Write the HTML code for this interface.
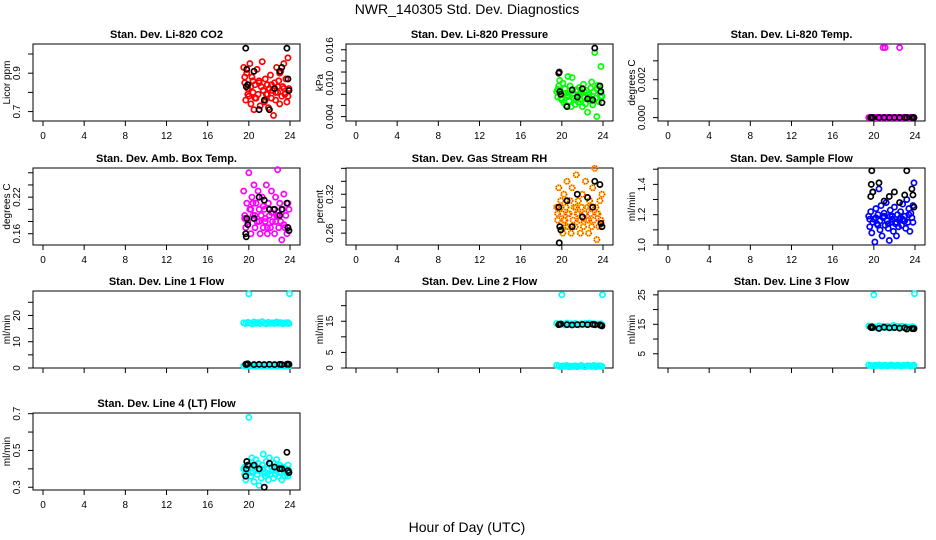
<!DOCTYPE html>
<html><head><meta charset="utf-8"><style>
html,body{margin:0;padding:0;background:#fff;}
svg{display:block;font-family:"Liberation Sans",Arial,sans-serif;}
</style></head><body>
<svg id="chart" width="936" height="540" viewBox="0 0 936 540">
<rect width="936" height="540" fill="#fff"/>
<text x="467" y="14" text-anchor="middle" font-size="14">NWR_140305  Std. Dev. Diagnostics</text>
<text x="467" y="532" text-anchor="middle" font-size="14">Hour of Day (UTC)</text>
</svg>
<script>
const xTicks=[0,4,8,12,16,20,24];
const hoursMain=[19.5,19.6,19.7,19.8,19.9,20.0,20.1,20.2,20.3,20.4,20.5,20.6,20.7,20.8,20.9,21.0,21.1,21.2,21.3,21.4,21.5,21.6,21.7,21.8,21.9,22.0,22.1,22.2,22.3,22.4,22.5,22.6,22.7,22.8,22.9,23.0,23.1,23.2,23.3,23.4,23.5,23.6,23.7,23.8,23.9,19.6,19.9,20.2,20.6,21.0,21.4,21.8,22.2,22.6,23.0,23.4,23.8,20.4,21.6,22.8];
const hoursBlack=[19.7,19.8,19.9,20.5,21.0,21.5,22.0,22.5,23.0,23.2,23.7,23.8,23.9,19.75];
const hoursLine=[19.5,19.7,19.9,20.1,20.3,20.5,20.7,20.9,21.1,21.3,21.5,21.7,21.9,22.1,22.3,22.5,22.7,22.9,23.1,23.3,23.5,23.7,23.9,23.8];
const hoursOut=[20.0,23.95];

const co2Main=[.93,.85,.76,.90,.82,.78,.95,.74,.88,.80,.71,.84,.77,.92,.79,.86,.73,.83,.96,.81,.75,.87,.79,.84,.72,.82,.89,.77,.81,.68,.85,.76,.93,.80,.86,.74,.91,.78,.83,.95,.79,.87,.75,.98,.82,.88,.79,.83,.77,.85,.81,.79,.84,.80,.90,.82,.78,.86,.76,.83];
const co2Black=[1.03,.92,.84,.91,.71,.76,.71,.82,.91,.93,1.03,.87,.81,.83];
const presMain=[.0085,.0075,.0095,.0105,.0080,.0070,.0100,.0065,.0090,.0060,.0078,.0112,.0068,.0095,.0058,.0110,.0082,.0072,.0062,.0088,.0076,.0066,.0092,.0071,.0084,.0058,.0098,.0074,.0063,.0087,.0048,.0079,.0069,.0091,.0102,.0061,.0085,.0155,.0073,.0040,.0096,.0067,.0083,.0130,.0077,.0089,.0073,.0081,.0076,.0086,.0070,.0079,.0084,.0075,.0068,.0090,.0074,.0082,.0078,.0072];
const presBlack=[.0118,.0085,.0080,.0058,.0088,.0075,.0090,.0072,.0070,.0163,.0095,.0085,.0065,.0120];
const tempMain=[0,0,0,0,0,0,0,0,0,0,0,0,0,0,0,0,0,0,0,0,0,0,0,0,0,0,0,0,0,0,0,0,0,0,0,0,0,0,0,0,0,0,0,0,0,0,0,0,0,0,0,0,0,0,0,0,0,0,0,0];
const tempOutHours=[20.9,21.1,22.5];
const tempOut=[.0037,.0037,.0037];
const tempBlack=[0,0,0,0,0,0,0,0,0,0,0,0,0,0];
const ambMain=[.23,.19,.17,.21,.18,.26,.20,.16,.22,.19,.24,.17,.21,.18,.23,.20,.16,.19,.22,.17,.20,.18,.24,.16,.21,.19,.17,.23,.18,.20,.16,.22,.19,.265,.17,.21,.18,.15,.20,.225,.17,.19,.16,.21,.20,.185,.175,.20,.19,.18,.205,.17,.195,.18,.19,.175,.17,.21,.185,.19];
const ambBlack=[.16,.185,.175,.185,.22,.215,.20,.20,.19,.20,.21,.17,.165,.155];
const rhMain=[.30,.28,.33,.27,.31,.29,.26,.32,.28,.30,.34,.27,.29,.31,.26,.33,.28,.30,.27,.35,.29,.31,.28,.26,.30,.32,.27,.29,.34,.28,.30,.26,.31,.29,.27,.33,.28,.36,.30,.25,.29,.27,.31,.28,.32,.29,.30,.28,.29,.27,.30,.28,.29,.28,.30,.29,.28,.27,.29,.30];
const rhBlack=[.30,.27,.265,.31,.27,.32,.285,.315,.30,.34,.335,.275,.27,.245];
const flowMain=[1.19,1.12,1.22,1.08,1.35,1.17,1.02,1.24,1.14,1.20,1.37,1.10,1.26,1.06,1.18,1.21,1.13,1.28,1.16,1.11,1.03,1.23,1.15,1.19,1.09,1.25,1.14,1.06,1.20,1.12,1.17,1.22,1.13,1.27,1.16,1.19,1.11,1.30,1.15,1.24,1.09,1.21,1.18,1.26,1.41,1.17,1.15,1.18,1.16,1.19,1.14,1.17,1.15,1.18,1.16,1.20,1.15,1.13,1.19,1.17];
const flowBlack=[1.32,1.49,1.35,1.41,1.29,1.32,1.35,1.28,1.33,1.49,1.37,1.33,1.25,1.40];
const l1High=[17.2,16.9,17.4,17.1,16.8,17.5,17.0,17.3,16.9,17.6,17.1,16.8,17.4,17.0,17.2,16.9,17.5,17.1,17.3,16.8,17.2,17.0,16.9,17.3];
const l1Low=[0.8,0.9,0.7,0.8,0.9,0.8,0.7,0.9,0.8,0.7,0.8,0.9,0.8,0.7,0.8,0.9,0.7,0.8,0.9,0.8,0.7,0.8,0.9,0.8];
const l1Out=[28.2,28.3];
const l1Black=[1.4,1.5,1.6,1.3,1.4,1.3,1.4,1.3,1.4,1.3,1.4,1.5,1.4,1.3];
const l2High=[14.3,13.9,14.2,14.1,13.8,14.4,14.0,14.2,13.9,14.3,14.1,13.8,14.2,14.0,14.3,13.9,14.4,14.1,14.2,13.8,14.1,14.0,13.9,14.2];
const l2Low=[0.9,0.6,0.4,0.7,0.5,0.8,0.4,0.6,0.5,0.7,0.4,0.6,0.8,0.5,0.4,0.7,0.6,0.5,0.8,0.4,0.6,0.7,0.5,0.6];
const l2Out=[23.5,23.5];
const l2Black=[13.9,14.0,14.1,13.9,13.8,13.9,14.0,13.9,14.0,13.9,13.8,13.6,13.5,14.0];
const l3High=[14.4,14.0,14.2,14.1,13.8,14.5,14.0,14.3,13.9,14.3,14.1,13.8,14.6,14.0,14.3,13.9,14.4,14.1,14.2,13.8,14.1,14.0,13.9,14.2];
const l3Low=[1.2,1.0,0.9,1.1,1.0,1.2,0.9,1.0,1.1,0.9,1.0,1.2,1.0,0.9,1.1,1.0,0.9,1.1,1.0,1.2,0.9,1.0,1.1,1.0];
const l3Out=[25.0,25.4];
const l3Black=[14.0,14.2,13.9,13.6,14.0,13.8,13.9,13.7,13.8,13.4,13.6,13.5,13.5,13.9];
const l4Main=[.40,.37,.34,.44,.39,.68,.42,.36,.46,.38,.33,.41,.45,.37,.43,.31,.39,.35,.42,.48,.38,.36,.44,.40,.34,.46,.37,.41,.39,.35,.43,.37,.45,.40,.36,.42,.38,.34,.41,.39,.36,.40,.37,.42,.39,.41,.40,.38,.42,.39,.40,.37,.41,.39,.38,.40,.36,.42,.38,.41];
const l4Black=[.36,.44,.42,.42,.40,.30,.43,.41,.40,.40,.49,.39,.38,.40];

const colLeft=[33,346,658], rowTop=[44,168,291,413], BW=267, BH=77;
const panels=[
 {name:'co2',title:'Stan. Dev. Li-820 CO2',ylab:'Licor ppm',c:0,r:0,ylim:[0.651,1.052],ticks:[0.7,0.8,0.9,1.0],labels:['0.7','','0.9',''],
  series:[[hoursMain,co2Main,'#ff0000'],[hoursBlack,co2Black,'#000']]},
 {name:'pressure',title:'Stan. Dev. Li-820 Pressure',ylab:'kPa',c:1,r:0,ylim:[0.00321,0.01703],ticks:[0.004,0.006,0.008,0.010,0.012,0.014,0.016],labels:['0.004','','','0.010','','','0.016'],
  series:[[hoursMain,presMain,'#00ff00'],[hoursBlack,presBlack,'#000']]},
 {name:'temp',title:'Stan. Dev. Li-820 Temp.',ylab:'degrees C',c:2,r:0,ylim:[-0.00018,0.00389],ticks:[0,0.001,0.002,0.003],labels:['0.000','','0.002',''],
  series:[[hoursMain,tempMain,'#ff00ff'],[tempOutHours,tempOut,'#ff00ff'],[hoursBlack,tempBlack,'#000']]},
 {name:'amb-box-temp',title:'Stan. Dev. Amb. Box Temp.',ylab:'degrees C',c:0,r:1,ylim:[0.1415,0.2678],ticks:[0.16,0.18,0.20,0.22,0.24,0.26],labels:['0.16','','','0.22','',''],
  series:[[hoursMain,ambMain,'#ff00ff'],[hoursBlack,ambBlack,'#000']]},
 {name:'gas-rh',title:'Stan. Dev. Gas Stream RH',ylab:'percent',c:1,r:1,ylim:[0.2417,0.3605],ticks:[0.26,0.28,0.30,0.32,0.34,0.36],labels:['0.26','','','0.32','',''],
  series:[[hoursMain,rhMain,'rh'],[hoursBlack,rhBlack,'#000']]},
 {name:'sample-flow',title:'Stan. Dev. Sample Flow',ylab:'ml/min',c:2,r:1,ylim:[1.0,1.508],ticks:[1.0,1.1,1.2,1.3,1.4,1.5],labels:['1.0','','1.2','','1.4',''],
  series:[[hoursMain,flowMain,'#0000ff'],[hoursBlack,flowBlack,'#000']]},
 {name:'line1-flow',title:'Stan. Dev. Line 1 Flow',ylab:'ml/min',c:0,r:2,ylim:[0,29.3],ticks:[0,5,10,15,20,25],labels:['0','','10','','20',''],nox:true,
  series:[[hoursLine,l1High,'#00ffff'],[hoursLine,l1Low,'#00ffff'],[hoursOut,l1Out,'#00ffff'],[hoursBlack,l1Black,'#000']]},
 {name:'line2-flow',title:'Stan. Dev. Line 2 Flow',ylab:'ml/min',c:1,r:2,ylim:[0,24.7],ticks:[0,5,10,15,20],labels:['0','5','','15',''],nox:true,
  series:[[hoursLine,l2High,'#00ffff'],[hoursLine,l2Low,'#00ffff'],[hoursOut,l2Out,'#00ffff'],[hoursBlack,l2Black,'#000']]},
 {name:'line3-flow',title:'Stan. Dev. Line 3 Flow',ylab:'ml/min',c:2,r:2,ylim:[0.17,26.3],ticks:[5,10,15,20,25],labels:['5','','15','','25'],nox:true,
  series:[[hoursLine,l3High,'#00ffff'],[hoursLine,l3Low,'#00ffff'],[hoursOut,l3Out,'#00ffff'],[hoursBlack,l3Black,'#000']]},
 {name:'line4-flow',title:'Stan. Dev. Line 4 (LT) Flow',ylab:'ml/min',c:0,r:3,ylim:[0.285,0.7036],ticks:[0.3,0.4,0.5,0.6,0.7],labels:['0.3','','0.5','','0.7'],
  series:[[hoursMain,l4Main,'#00ffff'],[hoursBlack,l4Black,'#000']]}
];
const svg=document.getElementById('chart');
const NS='http://www.w3.org/2000/svg';
function mk(tag,attrs,parent){const e=document.createElementNS(NS,tag);for(const k in attrs)e.setAttribute(k,attrs[k]);(parent||svg).appendChild(e);return e;}
panels.forEach(p=>{
  const L=colLeft[p.c],T=rowTop[p.r],B=T+BH,R=L+BW;
  const g=mk('g',{});
  
  
  const xs=h=>L+10+h*(BW-20)/24;
  const ys=v=>B-(v-p.ylim[0])/(p.ylim[1]-p.ylim[0])*BH;
  const t=mk('text',{x:(L+R)/2,y:T-6,'text-anchor':'middle','font-size':11,'font-weight':'bold'},g);
  t.textContent=p.title;
  
  
  const box=mk('rect',{x:L,y:T,width:BW,height:BH,fill:'none',stroke:'#000','stroke-width':1},g);
  
  
  const xa=mk('g',{},g);
  
  
  mk('line',{x1:xs(xTicks[0]),x2:xs(xTicks[xTicks.length-1]),y1:B,y2:B,stroke:'#000'},xa);
  xTicks.forEach(v=>{
    mk('line',{x1:xs(v),x2:xs(v),y1:B,y2:B+5,stroke:'#000'},xa);
    if(!p.nox){const tl=mk('text',{x:xs(v),y:B+18,'text-anchor':'middle','font-size':10},xa);tl.textContent=v;
      
      }
  });
  const ya=mk('g',{},g);
  
  
  mk('line',{x1:L,x2:L,y1:ys(p.ticks[0]),y2:ys(p.ticks[p.ticks.length-1]),stroke:'#000'},ya);
  p.ticks.forEach((v,i)=>{
    const y=ys(v);
    mk('line',{x1:L-5,x2:L,y1:y,y2:y,stroke:'#000'},ya);
    if(p.labels[i]){const tl=mk('text',{x:L-13,y:y,'text-anchor':'middle','font-size':10,transform:`rotate(-90 ${L-13} ${y})`},ya);tl.textContent=p.labels[i];
      
      }
  });
  const yt=mk('text',{x:L-23,y:(T+B)/2,'text-anchor':'middle','font-size':10,transform:`rotate(-90 ${L-23} ${(T+B)/2})`},g);
  yt.textContent=p.ylab;
  
  
  p.series.forEach(s=>{
    const [hs,vals,col]=s;
    const sg=mk('g',{},g);
    
    
    hs.forEach((h,i)=>{
      const cx=xs(h),cy=ys(vals[i]);
      if(col==='rh'){
        const c=mk('circle',{cx:cx,cy:cy,r:2.6,fill:'none',stroke:'#ffd000','stroke-width':1.7},sg);
        
        
        mk('circle',{cx:cx,cy:cy,r:2.6,fill:'none',stroke:'#ff3000','stroke-width':1.7,'stroke-dasharray':'1 1.2'},sg);
      } else {
        const c=mk('circle',{cx:cx,cy:cy,r:2.6,fill:'none',stroke:col,'stroke-width':1.7},sg);
        
        
      }
    });
  });
});
</script>
</body></html>
